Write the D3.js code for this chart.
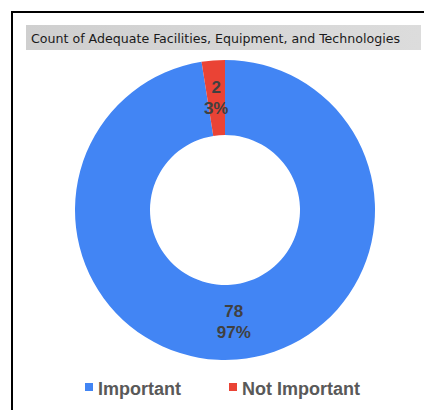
<!DOCTYPE html>
<html>
<head>
<meta charset="utf-8">
<script src="https://cdn.jsdelivr.net/npm/d3@7"></script>
<style>
  body { margin: 0; background: #fff; }
  svg { display: block; }
</style>
</head>
<body>
<div id="chart"></div>
<script>
// chart data
let categories = ["Important", "Not Important"];
let counts = [78, 2];
let pctLabels = ["97%", "3%"];
let colors = ["#4285F4", "#EA4335"];
let title = "Count of Adequate Facilities, Equipment, and Technologies";

let width = 424;
let height = 410;

let svg = d3.select("#chart")
  .append("svg")
  .attr("width", width)
  .attr("height", height);

// outer frame (only top + left edges show in the crop)
svg.append("rect")
  .attr("x", 12)
  .attr("y", 12)
  .attr("width", width)
  .attr("height", height)
  .attr("fill", "#fff")
  .attr("stroke", "#000")
  .attr("stroke-width", 2);

// title bar
let defs = svg.append("defs");
let grad = defs.append("linearGradient")
  .attr("id", "titleGrad")
  .attr("x1", 0).attr("x2", 1).attr("y1", 0).attr("y2", 0);
grad.append("stop").attr("offset", "0%").attr("stop-color", "#cfcfcf");
grad.append("stop").attr("offset", "100%").attr("stop-color", "#dcdcdc");

svg.append("rect")
  .attr("x", 26)
  .attr("y", 25)
  .attr("width", 395)
  .attr("height", 25)
  .attr("fill", "url(#titleGrad)");

svg.append("text")
  .attr("x", 31)
  .attr("y", 43)
  .attr("font-family", "DejaVu Sans Condensed, DejaVu Sans, sans-serif")
  .attr("font-size", 13)
  .attr("fill", "#1a1a1a")
  .attr("textLength", 369)
  .attr("lengthAdjust", "spacingAndGlyphs")
  .text(title);

// donut
let cx = 225, cy = 210;
let outerR = 150, innerR = 75;

let pie = d3.pie().sort(null).value(function(d) { return d; });
let arc = d3.arc().innerRadius(innerR).outerRadius(outerR);

let arcs = pie(counts);

let g = svg.append("g").attr("transform", "translate(" + cx + "," + cy + ")");

g.selectAll("path")
  .data(arcs)
  .enter()
  .append("path")
  .attr("d", arc)
  .attr("fill", function(d, i) { return colors[i]; });

// data labels: count on top, percent below
let labels = g.selectAll(".lbl")
  .data(arcs)
  .enter()
  .append("text")
  .attr("class", "lbl")
  .attr("transform", function(d) {
    let c = arc.centroid(d);
    return "translate(" + c[0] + "," + c[1] + ")";
  })
  .attr("text-anchor", "middle")
  .attr("font-family", "Liberation Sans, Arial, sans-serif")
  .attr("font-weight", "bold")
  .attr("font-size", 17)
  .attr("fill", "#404040");

labels.append("tspan")
  .attr("x", 0)
  .attr("y", -5)
  .text(function(d, i) { return counts[i]; });
labels.append("tspan")
  .attr("x", 0)
  .attr("y", 16)
  .text(function(d, i) { return pctLabels[i]; });

// legend
let legendX = [85, 229];
let legend = svg.selectAll(".legend")
  .data(categories)
  .enter()
  .append("g")
  .attr("class", "legend")
  .attr("transform", function(d, i) { return "translate(" + legendX[i] + ",383)"; });

legend.append("rect")
  .attr("width", 8)
  .attr("height", 8)
  .attr("fill", function(d, i) { return colors[i]; });

legend.append("text")
  .attr("x", 13)
  .attr("y", 12)
  .attr("font-family", "Liberation Sans, Arial, sans-serif")
  .attr("font-weight", "bold")
  .attr("font-size", 18)
  .attr("fill", "#595959")
  .text(function(d) { return d; });
</script>
</body>
</html>
